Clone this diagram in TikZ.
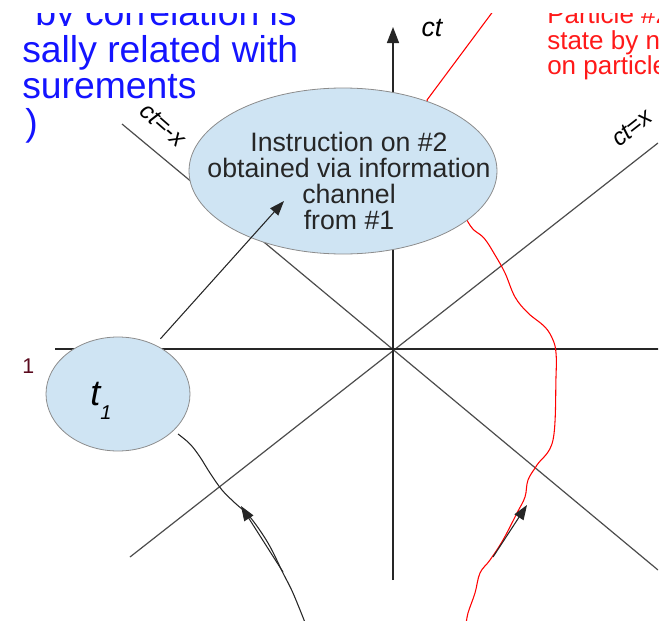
\documentclass[tikz,border=0pt]{standalone}
\usepackage{fontspec}
\setmainfont{Liberation Sans}
\usetikzlibrary{arrows.meta,shapes.geometric}
\definecolor{cloud}{RGB}{207,228,243}
\definecolor{rim}{RGB}{140,140,140}
\definecolor{bluenote}{RGB}{20,20,255}
\definecolor{rednote}{RGB}{255,25,25}
\definecolor{stub}{RGB}{90,10,30}
\tikzset{
  bubble/.style={ellipse, draw=rim, fill=cloud, line width=0.6pt, inner sep=0pt},
  axis/.style={line width=1.1pt, black!85},
  cone/.style={line width=0.9pt, black!70},
  wline/.style={line width=0.8pt, black!85},
  rline/.style={line width=0.8pt, red},
  flow/.style={-{Triangle[length=11pt,width=8pt]}, line width=0.8pt, black!85},
  lbl/.style={font=\fontsize{20}{20}\selectfont\itshape, inner sep=0pt},
  conelbl/.style={font=\fontsize{18}{18}\selectfont\itshape, inner sep=0pt},
  txt/.style={font=\fontsize{20}{19.5}\selectfont, align=center, inner sep=0pt, text=black!85},
  bnote/.style={font=\fontsize{28}{28}\selectfont, inner sep=0pt, anchor=base west, text=bluenote},
  rnote/.style={font=\fontsize{19.5}{19.1}\selectfont, inner sep=0pt, anchor=base west, text=rednote},
}

\begin{document}
\begin{tikzpicture}[x=0.75pt, y=-0.75pt]
  \useasboundingbox (0,0) rectangle (664,621);
  \clip (22,13) rectangle (658,621);

  % frame of #1: axes and light cone
  \coordinate (O) at (393,349);
  \coordinate (xl) at (55,349);
  \coordinate (xr) at (664,349);
  \coordinate (tb) at (393,580);
  \coordinate (tt) at (393,27);
  \coordinate (pl) at (130,557);
  \coordinate (pr) at (658,143);
  \coordinate (ml) at (122,124);
  \coordinate (mr) at (658,570);
  \draw[cone] (pl) -- (pr);
  \draw[cone] (ml) -- (mr);
  \draw[axis] (xl) -- (xr);
  \draw[axis, -{Triangle[length=12pt,width=9pt]}] (tb) -- (tt);

  % world line of particle #2
  \coordinate (r0) at (494,10);
  \coordinate (r1) at (427,100);
  \draw[rline] (r0) -- (r1);
  \draw[rline] plot[smooth, tension=0.6] coordinates {(r1) (447,170) (468,222)
    (484,238) (495,255) (505,273) (515,297) (528,313) (545,327) (553,340)
    (556,353) (556,377) (553,440) (537,465) (528,480) (525,497) (517,513)
    (503,540) (490,560) (480,573) (475,593) (468,613) (466,625)};

  % world line of particle #1
  \coordinate (w0) at (306,625);
  \coordinate (w1) at (178,434);
  \draw[wline] plot[smooth, tension=0.6] coordinates {(w1) (190,444) (200,457)
    (210,473) (222,490) (235,503) (250,517) (268,543) (283,573) (293,593) (w0)};

  % events
  \node[bubble, minimum width=231pt, minimum height=124.5pt] (instr) at (343,171) {};
  \node[txt] (instrtxt) at (349,181) {Instruction on \#2\\obtained via information\\channel\\from \#1};
  \node[bubble, minimum width=108pt, minimum height=85.5pt] (t1) at (118,394) {};
  \node[inner sep=0pt, anchor=base west] (t1lbl) at (90,405)
    {\fontsize{27}{27}\selectfont\itshape t\raisebox{-11pt}{\fontsize{15}{15}\selectfont 1}};

  \coordinate (tip) at (284,201);
  \draw[flow, shorten <=6pt] (t1.53) -- (tip);
  \coordinate (a0) at (283,572);
  \coordinate (a1) at (241,506);
  \draw[flow] (a0) -- (a1);
  \coordinate (b0) at (493,557);
  \coordinate (b1) at (527,505);
  \draw[flow] (b0) -- (b1);

  % labels
  \node[lbl] (ctlbl) at (432,28) {ct};
  \node[conelbl, rotate=-41] (mlbl) at (163,125) {ct=-x};
  \node[conelbl, rotate=38] (plbl) at (632,128) {ct=x};
  \node[inner sep=0pt, anchor=base west, text=stub, font=\fontsize{16}{16}\selectfont] (stublbl) at (22,373) {1};

  % notes
  \begin{scope}
    \clip (22,13) rectangle (658,25.5);
    \node[bnote] (corr) at (35,25) {by correlation is};
  \end{scope}
  \node[bnote] (caus) at (22,62) {sally related with};
  \node[bnote] (meas) at (22,98) {surements};
  \node[bnote] (paren) at (25,135) {)};
  \node[rnote] (part) at (547,23) {Particle \#2};
  \node[rnote] (state) at (547,49) {state by n};
  \node[rnote] (onpart) at (547,74) {on particle};
\end{tikzpicture}
\end{document}
